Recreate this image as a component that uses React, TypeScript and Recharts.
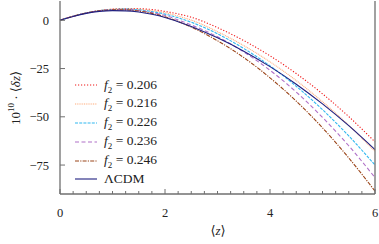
import { LineChart, Line, XAxis, YAxis } from 'recharts'

// redshift grid
const zVals = [0, 0.25, 0.5, 0.75, 1, 1.25, 1.5, 1.75, 2, 2.25, 2.5, 3, 3.5, 4, 4.5, 5, 5.5, 6]

// 10^10 <dz> for each model
const f206 = [0, 2.1, 3.8, 5.0, 5.8, 6.1, 6.0, 5.6, 4.6, 3.3, 1.6, -3.8, -10.5, -18.4, -27.6, -38.1, -49.9, -63]
const f216 = [0, 2.1, 3.8, 5.0, 5.7, 5.9, 5.7, 5.0, 3.9, 2.2, 0.1, -5.9, -13.1, -21.5, -31.2, -42.2, -54.4, -68]
const f226 = [0, 2.1, 3.8, 5.0, 5.6, 5.8, 5.4, 4.5, 3.2, 1.3, -1.0, -7.0, -14.6, -23.6, -34.2, -46.3, -59.9, -75]
const f236 = [0, 2.1, 3.8, 4.9, 5.5, 5.6, 5.1, 4.0, 2.5, 0.2, -2.4, -8.5, -16.4, -25.9, -37.2, -50.3, -65.0, -81.5]
const f246 = [0, 2.1, 3.8, 4.9, 5.4, 5.4, 4.8, 3.6, 1.8, -0.6, -3.5, -10.6, -19.3, -29.8, -41.9, -55.7, -71.3, -88.5]
const lcdm = [0, 2.0, 3.6, 4.6, 5.0, 4.9, 4.3, 3.1, 1.5, -0.7, -3.2, -9.1, -16.0, -24.0, -33.1, -43.3, -54.6, -67]

const xTicks = [0, 0.25, 0.5, 0.75, 1, 1.25, 1.5, 1.75, 2, 2.25, 2.5, 2.75, 3, 3.25, 3.5, 3.75, 4, 4.25, 4.5, 4.75, 5, 5.25, 5.5, 5.75, 6]
const xLabels = [0, 2, 4, 6]
const yTicks = [-75, -50, -25, 0]

const data = zVals.map((z, i) => ({
  z,
  f206: f206[i],
  f216: f216[i],
  f226: f226[i],
  f236: f236[i],
  f246: f246[i],
  lcdm: lcdm[i],
}))

const series = [
  { key: 'f206', label: '0.206', color: '#f01818', dash: '1.2 1.8', width: 1.1 },
  { key: 'f216', label: '0.216', color: '#ffab7a', dash: '1 0.8', width: 1.1 },
  { key: 'f226', label: '0.226', color: '#30b8f0', dash: '3 1.2', width: 1.1 },
  { key: 'f236', label: '0.236', color: '#b070c8', dash: '4 2.5', width: 1.1 },
  { key: 'f246', label: '0.246', color: '#9a4418', dash: '4 1.2 1.2 1.2', width: 1.1 },
  { key: 'lcdm', label: 'ΛCDM', color: '#202080', dash: undefined, width: 1.1 },
]

const AXIS = '#6f6f6f'
const FONT = '"Liberation Serif", "DejaVu Serif", serif'

function BottomTick(props: any) {
  const { x, y, payload } = props
  const v = payload.value as number
  const major = xLabels.includes(v)
  return (
    <g>
      <line x1={x} x2={x} y1={y} y2={y - (major ? 5 : 3)} stroke={AXIS} strokeWidth={1} />
      {major && (
        <text x={x} y={y + 23} textAnchor="middle" fontSize={12.5} fill="#222" fontFamily={FONT}>
          {v}
        </text>
      )}
    </g>
  )
}

function TopTick(props: any) {
  const { x, y, payload } = props
  const major = xLabels.includes(payload.value)
  return <line x1={x} x2={x} y1={y} y2={y + (major ? 5 : 3)} stroke={AXIS} strokeWidth={1} />
}

function LeftTick(props: any) {
  const { x, y, payload } = props
  const v = payload.value as number
  return (
    <g>
      <line x1={x} x2={x + 5} y1={y} y2={y} stroke={AXIS} strokeWidth={1} />
      <text x={x - 11} y={y + 4.5} textAnchor="end" fontSize={12.5} fill="#222" fontFamily={FONT}>
        {v < 0 ? `−${-v}` : v}
      </text>
    </g>
  )
}

function RightTick(props: any) {
  const { x, y } = props
  return <line x1={x} x2={x - 5} y1={y} y2={y} stroke={AXIS} strokeWidth={1} />
}

function LegendBox() {
  return (
    <div
      style={{
        position: 'absolute',
        left: 75,
        top: 76,
        fontFamily: FONT,
        fontSize: 13.5,
        color: '#222',
      }}
    >
      {series.map((s) => (
        <div key={s.key} style={{ display: 'flex', alignItems: 'center', height: 18.8 }}>
          <svg width={22} height={8} style={{ marginRight: 7 }}>
            <line x1={0} x2={22} y1={4} y2={4} stroke={s.color} strokeWidth={1.1} strokeDasharray={s.dash} />
          </svg>
          {s.key === 'lcdm' ? (
            <span>ΛCDM</span>
          ) : (
            <span>
              <i>f</i>
              <sub style={{ fontSize: 9 }}>2</sub> = {s.label}
            </span>
          )}
        </div>
      ))}
    </div>
  )
}

export default function App() {
  return (
    <div style={{ position: 'absolute', left: 0, top: 0, width: 379, height: 244, background: '#fff' }}>
      <LineChart width={379} height={244} data={data} margin={{ top: 1, right: 0, bottom: 0, left: 0 }}>
        <XAxis
          dataKey="z"
          type="number"
          domain={[0, 6]}
          ticks={xTicks}
          interval={0}
          height={50}
          tickSize={0}
          tickMargin={0}
          tickLine={false}
          axisLine={{ stroke: AXIS, strokeWidth: 1.3 }}
          tick={<BottomTick />}
        />
        <XAxis
          xAxisId="top"
          orientation="top"
          dataKey="z"
          type="number"
          domain={[0, 6]}
          ticks={xTicks}
          interval={0}
          height={0}
          tickSize={0}
          tickMargin={0}
          tickLine={false}
          axisLine={{ stroke: AXIS, strokeWidth: 1.3 }}
          tick={<TopTick />}
        />
        <YAxis
          type="number"
          domain={[-90, 10]}
          ticks={yTicks}
          interval={0}
          width={60}
          tickSize={0}
          tickMargin={0}
          tickLine={false}
          axisLine={{ stroke: AXIS, strokeWidth: 1.3 }}
          tick={<LeftTick />}
        />
        <YAxis
          yAxisId="right"
          orientation="right"
          type="number"
          domain={[-90, 10]}
          ticks={yTicks}
          interval={0}
          width={4}
          tickSize={0}
          tickMargin={0}
          tickLine={false}
          axisLine={{ stroke: AXIS, strokeWidth: 1.3 }}
          tick={<RightTick />}
        />
        {series.map((s) => (
          <Line
            key={s.key}
            dataKey={s.key}
            type="monotone"
            stroke={s.color}
            strokeWidth={s.width}
            strokeDasharray={s.dash}
            dot={false}
            activeDot={false}
            isAnimationActive={false}
          />
        ))}
      </LineChart>
      <LegendBox />
      <div
        style={{
          position: 'absolute',
          left: 15,
          top: 98,
          transform: 'translate(-50%, -50%) rotate(-90deg)',
          whiteSpace: 'nowrap',
          fontFamily: FONT,
          fontSize: 13,
          color: '#222',
        }}
      >
        10<sup style={{ fontSize: 9 }}>10</sup> · ⟨<i>δz</i>⟩
      </div>
      <div
        style={{
          position: 'absolute',
          left: 218,
          top: 231,
          transform: 'translate(-50%, -50%)',
          fontFamily: FONT,
          fontSize: 13,
          color: '#222',
        }}
      >
        ⟨<i>z</i>⟩
      </div>
    </div>
  )
}
